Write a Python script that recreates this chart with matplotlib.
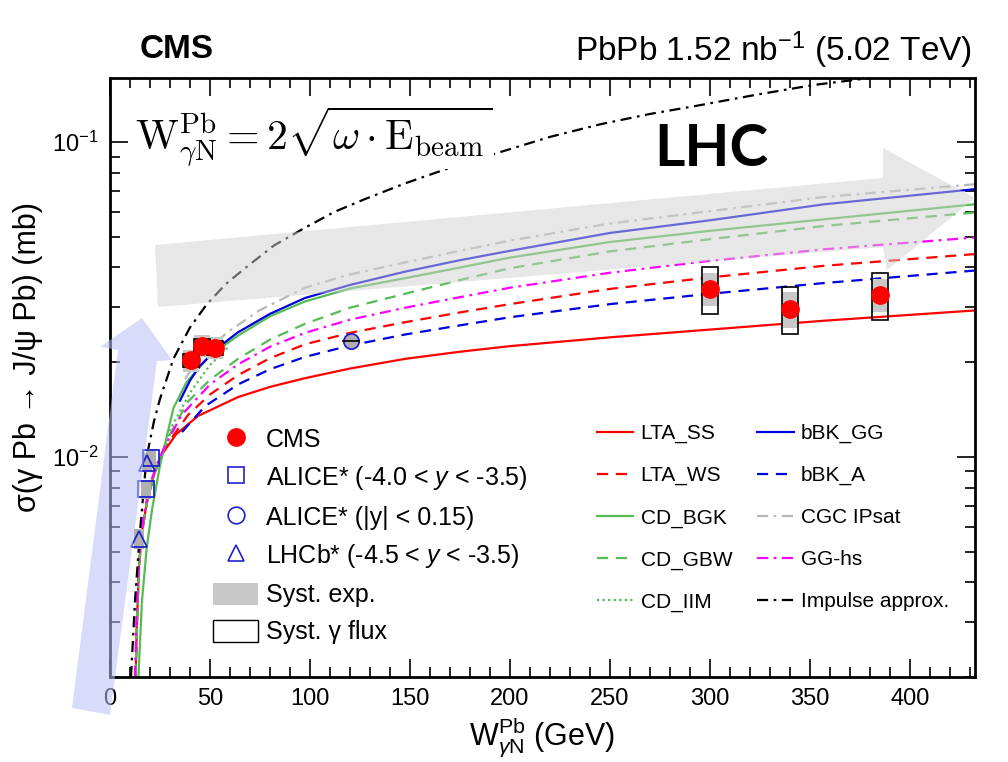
import numpy as np
import matplotlib
matplotlib.use("Agg")
import matplotlib.pyplot as plt
from matplotlib.lines import Line2D
from matplotlib.patches import Patch, Rectangle, Polygon
from matplotlib import font_manager as fm

names = {f.name for f in fm.fontManager.ttflist}
NARROW = 'Liberation Sans Narrow' if 'Liberation Sans Narrow' in names else 'Liberation Sans'
plt.rcParams['font.family'] = [NARROW, 'DejaVu Sans']
plt.rcParams['mathtext.fontset'] = 'custom'
plt.rcParams['mathtext.rm'] = NARROW
plt.rcParams['mathtext.it'] = NARROW + ':italic'
plt.rcParams['mathtext.bf'] = NARROW + ':bold'

# ---------------- data ----------------
cms_x = [40.5, 46.0, 52.5, 300.0, 340.0, 385.0]
cms_y = [0.0203, 0.0226, 0.0222, 0.0342, 0.0296, 0.0328]
cms_syst = [0.08, 0.08, 0.08, 0.12, 0.13, 0.12]
cms_flux = [0.05, 0.05, 0.05, 0.17, 0.17, 0.17]

alice_fwd_x = [18.0, 20.3]
alice_fwd_y = [0.0079, 0.0099]
alice_cen_x = [120.5]
alice_cen_y = [0.0233]
lhcb_x = [14.7, 18.7]
lhcb_y = [0.0055, 0.0096]

low_x = [12.8, 13.5, 14.5, 16.0, 18.5, 22.0, 26.0]
low_y = [0.0020, 0.0030, 0.0045, 0.0058, 0.0072, 0.0088, 0.0102]

lta_ss_x = low_x + [33, 44, 64, 80, 97.5, 120, 147.5, 175, 200, 250, 300, 357, 432]
lta_ss_y = low_y + [0.0118, 0.0135, 0.0155, 0.0167, 0.0178, 0.0191, 0.0205, 0.0216, 0.0225,
                    0.0240, 0.0254, 0.0271, 0.0292]
lta_ws_x = low_x + [30, 39, 50, 64, 80, 97.5, 120, 147.5, 175, 200, 250, 300, 357, 432]
lta_ws_y = low_y + [0.0113, 0.0136, 0.0158, 0.0182, 0.0206, 0.0228, 0.0248, 0.0268, 0.0288, 0.0306,
                    0.0342, 0.0372, 0.0405, 0.0441]
cd_bgk_x = [14.2, 16, 18.3, 21, 25, 31.7, 38.3, 50, 64, 80, 97.5, 120, 147.5, 175, 200, 250, 300, 357, 432]
cd_bgk_y = [0.0020, 0.0035, 0.0051, 0.0068, 0.0094, 0.0143, 0.0173, 0.0210, 0.0243, 0.0280, 0.0312,
            0.0343, 0.0370, 0.0400, 0.0430, 0.0482, 0.0523, 0.0569, 0.0635]
cd_gbw_x = low_x + [30, 39, 50, 64, 80, 97.5, 120, 147.5, 175, 200, 250, 300, 357, 432]
cd_gbw_y = low_y + [0.0118, 0.0150, 0.0176, 0.0205, 0.0236, 0.0265, 0.0298, 0.0330, 0.0365, 0.0398,
                    0.0450, 0.0492, 0.0542, 0.0598]
cd_iim_x = low_x + [30, 40, 50, 60]
cd_iim_y = low_y + [0.0122, 0.0160, 0.0196, 0.0226]
bbk_gg_x = [35, 40, 45, 55, 64, 80, 97.5, 120, 147.5, 175, 200, 250, 300, 357, 432]
bbk_gg_y = [0.0151, 0.0175, 0.0195, 0.0225, 0.0249, 0.0285, 0.0320, 0.0352, 0.0388, 0.0422, 0.0452,
            0.0515, 0.0565, 0.0635, 0.0709]
bbk_a_x = [36, 47.5, 64, 80, 97.5, 120, 147.5, 175, 200, 250, 300, 357, 432]
bbk_a_y = [0.0120, 0.0145, 0.0170, 0.0190, 0.0208, 0.0226, 0.0245, 0.0262, 0.0278, 0.0306, 0.0330,
           0.0357, 0.0391]
ipsat_x = [37.5, 45, 59, 75, 97.5, 120, 147.5, 175, 200, 250, 300, 357, 432]
ipsat_y = [0.0177, 0.0208, 0.0250, 0.0293, 0.0345, 0.0380, 0.0415, 0.0452, 0.0487, 0.0552, 0.0604,
           0.0670, 0.0735]
gghs_x = [12.5, 13.3, 14.5, 17, 20, 24, 28, 35.8, 50, 64, 80, 97.5, 120, 147.5, 175, 200, 250, 300, 357, 432]
gghs_y = [0.0020, 0.0032, 0.0048, 0.0066, 0.0082, 0.0097, 0.0110, 0.0136, 0.0170, 0.0197, 0.0224,
          0.0248, 0.0273, 0.0298, 0.0322, 0.0345, 0.0385, 0.0420, 0.0457, 0.0498]
impulse_x = [10.5, 12.5, 15, 18.3, 22, 25, 31.7, 40, 48.3, 58, 69, 82, 97.5, 112, 127.5, 147.5, 170,
             195, 220, 245, 270, 291.7, 323, 351.7, 380]
impulse_y = [0.0020, 0.0035, 0.0058, 0.0100, 0.0130, 0.0153, 0.0205, 0.0258, 0.0305, 0.0355, 0.0405,
             0.0470, 0.0535, 0.0600, 0.0660, 0.0740, 0.0830, 0.0930, 0.1040, 0.1140, 0.1230, 0.1300,
             0.1415, 0.1520, 0.1600]

x_ticks = [0, 50, 100, 150, 200, 250, 300, 350, 400]

# ---------------- figure ----------------
W, H = 1008, 762
fig = plt.figure(figsize=(W / 100, H / 100), dpi=100)
ax = fig.add_axes([110 / W, 1 - 677 / H, (975 - 110) / W, (677 - 78) / H])
ax.set_yscale('log')
ax.set_xlim(0, 432.5)
ax.set_ylim(0.002, 0.16)

RED, BLUE, GREEN, GRAY, MAG = '#ff0000', '#0000dd', '#55bb55', '#b8b8b8', '#ff00ff'
lw = 1.6
dash = (0, (5, 3.5))
dashdot = (0, (5, 2.5, 1.2, 2.5))
models = [
    (lta_ss_x, lta_ss_y, RED, '-', 'LTA_SS'),
    (lta_ws_x, lta_ws_y, RED, dash, 'LTA_WS'),
    (cd_bgk_x, cd_bgk_y, GREEN, '-', 'CD_BGK'),
    (cd_gbw_x, cd_gbw_y, GREEN, dash, 'CD_GBW'),
    (cd_iim_x, cd_iim_y, GREEN, (0, (1, 1.5)), 'CD_IIM'),
    (bbk_gg_x, bbk_gg_y, BLUE, '-', 'bBK_GG'),
    (bbk_a_x, bbk_a_y, BLUE, dash, 'bBK_A'),
    (ipsat_x, ipsat_y, GRAY, dashdot, 'CGC IPsat'),
    (gghs_x, gghs_y, MAG, dashdot, 'GG-hs'),
    (impulse_x, impulse_y, 'black', dashdot, 'Impulse approx.'),
]
handles2 = []
for xs, ys, c, ls, lab in models:
    ax.plot(xs, ys, color=c, ls=ls, lw=lw, zorder=2)
    handles2.append(Line2D([], [], color=c, ls=ls, lw=lw, label=lab))

# systematic boxes
for x, y, s, f in zip(cms_x, cms_y, cms_syst, cms_flux):
    ax.add_patch(Rectangle((x - 4, y * (1 - s)), 8, y * 2 * s, facecolor='#c8c8c8', edgecolor='none', zorder=3))
    ax.add_patch(Rectangle((x - 4, y * (1 - f)), 8, y * 2 * f, facecolor='none', edgecolor='black', lw=1.2, zorder=4))
for x, y in zip(alice_fwd_x + lhcb_x, alice_fwd_y + lhcb_y):
    ax.add_patch(Rectangle((x - 2.5, y * 0.93), 5, y * 0.14, facecolor='#b0b0b0', edgecolor='none', zorder=3))
ax.plot(cms_x, cms_y, 'o', color=RED, ms=12.5, zorder=6)
ax.plot(alice_fwd_x, alice_fwd_y, 's', mfc='none', mec='#2222cc', mew=1.3, ms=11, zorder=6)
ax.plot(lhcb_x, lhcb_y, '^', mfc='none', mec='#2222cc', mew=1.3, ms=11, zorder=6)
ax.plot(alice_cen_x, alice_cen_y, 'o', mfc='#b0b0b0', mec='#2222cc', mew=1.3, ms=11, zorder=6)
ax.plot([alice_cen_x[0] - 4, alice_cen_x[0] + 4], [alice_cen_y[0]] * 2, color='black', lw=1.2, zorder=7)

# axes style
ax.set_xticks(x_ticks)
ax.xaxis.set_minor_locator(matplotlib.ticker.MultipleLocator(10))
ax.tick_params(which='both', direction='in', top=True, right=True, width=1.2)
ax.tick_params(which='major', length=13, labelsize=17, pad=8)
ax.tick_params(which='minor', length=7)
for sp in ax.spines.values():
    sp.set_linewidth(2)
ax.set_xlabel(r'W$_{\gamma\mathrm{N}}^{\mathrm{Pb}}$ (GeV)', fontsize=22)
ax.xaxis.set_label_coords(0.5, -0.064)
ax.set_ylabel(r'σ(γ Pb → J/ψ Pb) (mb)', fontsize=22)
ax.yaxis.set_label_coords(-0.078, 0.535)

fig.text(140 / W, 1 - 50 / H, 'CMS', fontsize=24, fontweight='bold', va='center', ha='left')
fig.text(972 / W, 1 - 50 / H, r'PbPb 1.52 nb$^{-1}$ (5.02 TeV)', fontsize=24, va='center', ha='right')

# legends
handles1 = [
    Line2D([], [], marker='o', ls='none', color=RED, ms=12.5, label='CMS'),
    Line2D([], [], marker='s', ls='none', mfc='none', mec='#2222cc', mew=1.2, ms=12,
           label=r'ALICE* (-4.0 < $\mathit{y}$ < -3.5)'),
    Line2D([], [], marker='o', ls='none', mfc='none', mec='#2222cc', mew=1.2, ms=12,
           label='ALICE* (|y| < 0.15)'),
    Line2D([], [], marker='^', ls='none', mfc='none', mec='#2222cc', mew=1.2, ms=12,
           label=r'LHCb* (-4.5 < $\mathit{y}$ < -3.5)'),
    Patch(facecolor='#c8c8c8', edgecolor='none', label='Syst. exp.'),
    Patch(facecolor='white', edgecolor='black', label='Syst. γ flux'),
]
leg1 = ax.legend(handles=handles1, loc='upper left', bbox_to_anchor=(213 / W, 1 - 427 / H),
                 bbox_transform=fig.transFigure, frameon=False, fontsize=18,
                 labelspacing=0.5, handlelength=1.8, handleheight=1.0, handletextpad=0.3,
                 borderpad=0, borderaxespad=0)
ax.add_artist(leg1)
leg2 = ax.legend(handles=handles2, loc='upper left', bbox_to_anchor=(597 / W, 1 - 424 / H),
                 bbox_transform=fig.transFigure, frameon=False, fontsize=15, ncol=2,
                 labelspacing=1.1, handlelength=1.75, handletextpad=0.35, columnspacing=1.2,
                 borderpad=0, borderaxespad=0)

# formula
fig.text(135 / W, 1 - 136 / H, r'$\mathrm{W}_{\gamma\mathrm{N}}^{\mathrm{Pb}} = 2\sqrt{\omega\cdot\mathrm{E}_{\mathrm{beam}}}$',
         fontsize=30, math_fontfamily='cm', va='center', ha='left', zorder=5,
         bbox=dict(facecolor='white', edgecolor='none', pad=1))

# arrows
def fp(pts):
    return [(x / W, 1 - y / H) for x, y in pts]

gray_arrow = fp([(155, 245), (883, 178), (883, 148), (975, 198), (887, 270), (883, 247), (158, 307)])
fig.patches.append(Polygon(gray_arrow, closed=True, transform=fig.transFigure, facecolor='#d0d0d0',
                           edgecolor='none', alpha=0.5, zorder=5))
blue_arrow = fp([(72, 708), (110, 715), (157, 361), (172, 360), (142, 318), (100, 347), (118, 350)])
fig.patches.append(Polygon(blue_arrow, closed=True, transform=fig.transFigure, facecolor='#b8bff5',
                           edgecolor='none', alpha=0.55, zorder=5))

fig.text(711 / W, 1 - 150 / H, 'LHC', fontsize=42, fontweight='bold', family=['Lato', 'DejaVu Sans'],
         va='center', ha='center')

fig.savefig('out.png', dpi=100)
